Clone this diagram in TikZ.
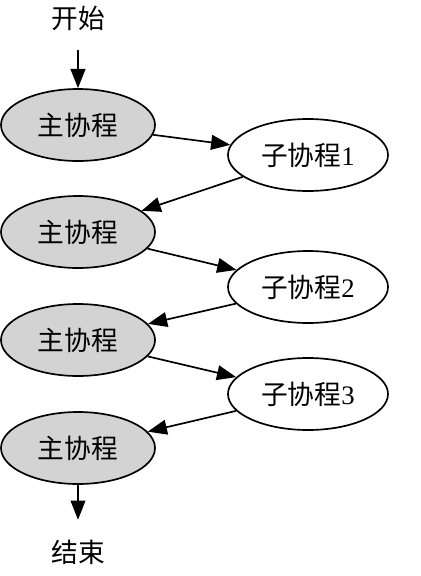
\documentclass[tikz,border=0pt]{standalone}
\usepackage{fontspec}
\setmainfont{Liberation Serif}
\newfontfamily\cjk{Noto Sans CJK SC}
\usetikzlibrary{shapes.geometric, arrows.meta, positioning}
\definecolor{lgrey}{RGB}{211,211,211}

\begin{document}
\begin{tikzpicture}[font=\fontsize{19}{22}\selectfont,
    main/.style={draw, ellipse, fill=lgrey, line width=1.2pt, minimum width=3.85cm, minimum height=1.8cm, inner sep=0pt},
    sub/.style={draw, ellipse, fill=white, line width=1.2pt, minimum width=4cm, minimum height=1.8cm, inner sep=0pt},
    plain/.style={minimum height=1.6cm, inner sep=0pt},
    arrow/.style={-{Triangle[length=0.48cm, width=0.37cm]}, line width=1.2pt}
]
    \useasboundingbox (0,0) rectangle (10.5,-14.4);
    \node[plain] (start) at (1.95,-0.45) {\cjk 开始};
    \node[main] (m1) at (1.95,-3.125) {\cjk 主协程};
    \node[sub]  (s1) at (7.7,-3.875) {{\cjk 子协程}1};
    \node[main] (m2) at (1.95,-5.8) {\cjk 主协程};
    \node[sub]  (s2) at (7.7,-7.175) {{\cjk 子协程}2};
    \node[main] (m3) at (1.95,-8.5) {\cjk 主协程};
    \node[sub]  (s3) at (7.7,-9.85) {{\cjk 子协程}3};
    \node[main] (m4) at (1.95,-11.2) {\cjk 主协程};
    \node[plain] (end) at (1.95,-13.8) {\cjk 结束};

    \draw[arrow] (start) -- (m1);
    \draw[arrow] (m1) -- (s1);
    \draw[arrow] (s1) -- (m2);
    \draw[arrow] (m2) -- (s2);
    \draw[arrow] (s2) -- (m3);
    \draw[arrow] (m3) -- (s3);
    \draw[arrow] (s3) -- (m4);
    \draw[arrow] (m4) -- (end);
\end{tikzpicture}
\end{document}
